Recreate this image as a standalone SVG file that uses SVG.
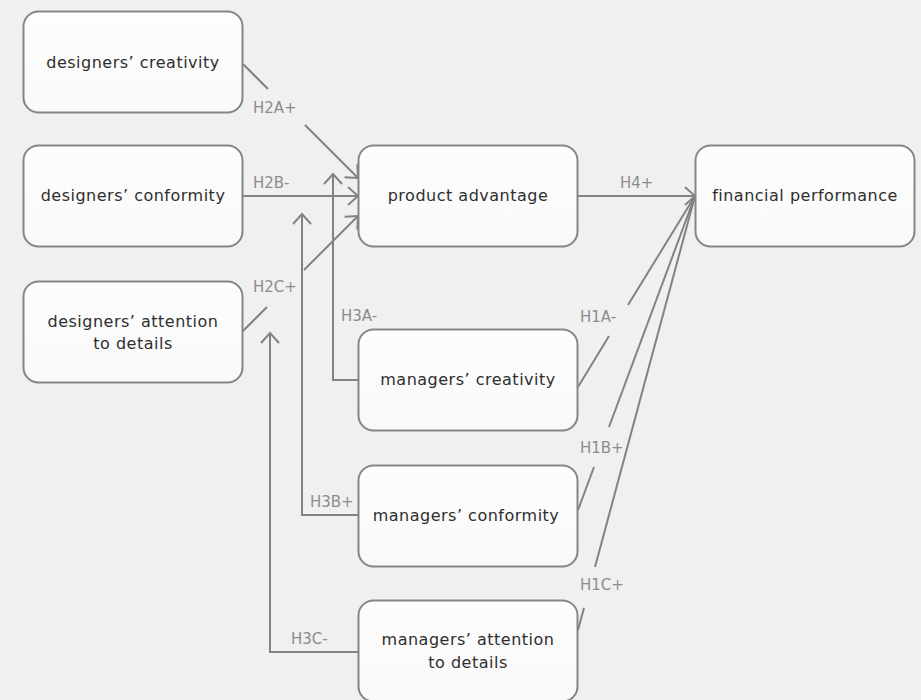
<svg xmlns="http://www.w3.org/2000/svg" width="921" height="700" viewBox="0 0 921 700">
  <defs>
    <marker id="arrow" markerUnits="userSpaceOnUse" viewBox="-12 -10 14 20" markerWidth="14" markerHeight="20" refX="0" refY="0" orient="auto" overflow="visible">
      <path d="M-10,-9 L0,0 L-10,9" fill="none" stroke="#828282" stroke-width="2" stroke-linejoin="miter"/>
    </marker>
    <linearGradient id="nodeFill" x1="0" y1="0" x2="0" y2="1">
      <stop offset="0" stop-color="#fdfdfd"/>
      <stop offset="1" stop-color="#f9f9f9"/>
    </linearGradient>
  </defs>
  <style>
    .node rect { fill: url(#nodeFill); stroke: #858585; stroke-width: 2; }
    .node text { font-family: "DejaVu Sans", "Noto Sans", sans-serif; font-size: 16px; letter-spacing: 0.5px; fill: #2e2e2e; text-anchor: middle; }
    .edge { fill: none; stroke: #828282; stroke-width: 2; }
    .lbl { font-family: "DejaVu Sans", "Noto Sans", sans-serif; font-size: 15px; fill: #8c8c8c; }
  </style>

  <rect x="0" y="0" width="921" height="700" fill="#f0f0f0"/>

  <!-- connectors -->
  <g id="connectors">
    <!-- H2A+ -->
    <line class="edge" x1="243" y1="64" x2="268" y2="89"/>
    <line class="edge" x1="305" y1="125" x2="358" y2="178" marker-end="url(#arrow)"/>
    <text class="lbl" x="253" y="112.5">H2A+</text>
    <!-- H2B- -->
    <line class="edge" x1="243" y1="196" x2="358" y2="196" marker-end="url(#arrow)"/>
    <text class="lbl" x="253" y="188">H2B-</text>
    <!-- H2C+ -->
    <line class="edge" x1="243" y1="331" x2="267" y2="307"/>
    <line class="edge" x1="304" y1="270" x2="358" y2="216" marker-end="url(#arrow)"/>
    <text class="lbl" x="253" y="292">H2C+</text>
    <!-- H3A- -->
    <path class="edge" d="M358,380 H333 V174" marker-end="url(#arrow)"/>
    <text class="lbl" x="341" y="320.5">H3A-</text>
    <!-- H3B+ -->
    <path class="edge" d="M358,515 H302 V214" marker-end="url(#arrow)"/>
    <text class="lbl" x="310" y="507">H3B+</text>
    <!-- H3C- -->
    <path class="edge" d="M358,652 H270 V333" marker-end="url(#arrow)"/>
    <text class="lbl" x="291" y="644">H3C-</text>
    <!-- H4+ -->
    <line class="edge" x1="578" y1="196" x2="695" y2="196" marker-end="url(#arrow)"/>
    <text class="lbl" x="620" y="188">H4+</text>
    <!-- H1A- -->
    <line class="edge" x1="578" y1="387" x2="609" y2="336"/>
    <line class="edge" x1="628" y1="305" x2="695" y2="196"/>
    <text class="lbl" x="580" y="322">H1A-</text>
    <!-- H1B+ -->
    <line class="edge" x1="578" y1="510" x2="594" y2="467"/>
    <line class="edge" x1="609" y1="427" x2="695" y2="196"/>
    <text class="lbl" x="580" y="453">H1B+</text>
    <!-- H1C+ -->
    <line class="edge" x1="578" y1="630" x2="584" y2="608"/>
    <line class="edge" x1="595" y1="567" x2="695" y2="196"/>
    <text class="lbl" x="580" y="590">H1C+</text>
  </g>

  <!-- nodes -->
  <g id="designers-creativity" class="node">
    <rect x="23.5" y="11.5" width="219" height="101" rx="15"/>
    <text x="133" y="68">designers’ creativity</text>
  </g>
  <g id="designers-conformity" class="node">
    <rect x="23.5" y="145.5" width="219" height="101" rx="15"/>
    <text x="133" y="201">designers’ conformity</text>
  </g>
  <g id="designers-attention" class="node">
    <rect x="23.5" y="281.5" width="219" height="101" rx="15"/>
    <text x="133" y="326.5">designers’ attention</text>
    <text x="133" y="349">to details</text>
  </g>
  <g id="product-advantage" class="node">
    <rect x="358.5" y="145.5" width="219" height="101" rx="15"/>
    <text x="468" y="201">product advantage</text>
  </g>
  <g id="financial-performance" class="node">
    <rect x="695.5" y="145.5" width="219" height="101" rx="15"/>
    <text x="805" y="201">financial performance</text>
  </g>
  <g id="managers-creativity" class="node">
    <rect x="358.5" y="329.5" width="219" height="101" rx="15"/>
    <text x="468" y="385">managers’ creativity</text>
  </g>
  <g id="managers-conformity" class="node">
    <rect x="358.5" y="465.5" width="219" height="101" rx="15"/>
    <text x="466" y="521">managers’ conformity</text>
  </g>
  <g id="managers-attention" class="node">
    <rect x="358.5" y="600.5" width="219" height="101" rx="15"/>
    <text x="468" y="645">managers’ attention</text>
    <text x="468" y="668">to details</text>
  </g>
</svg>
